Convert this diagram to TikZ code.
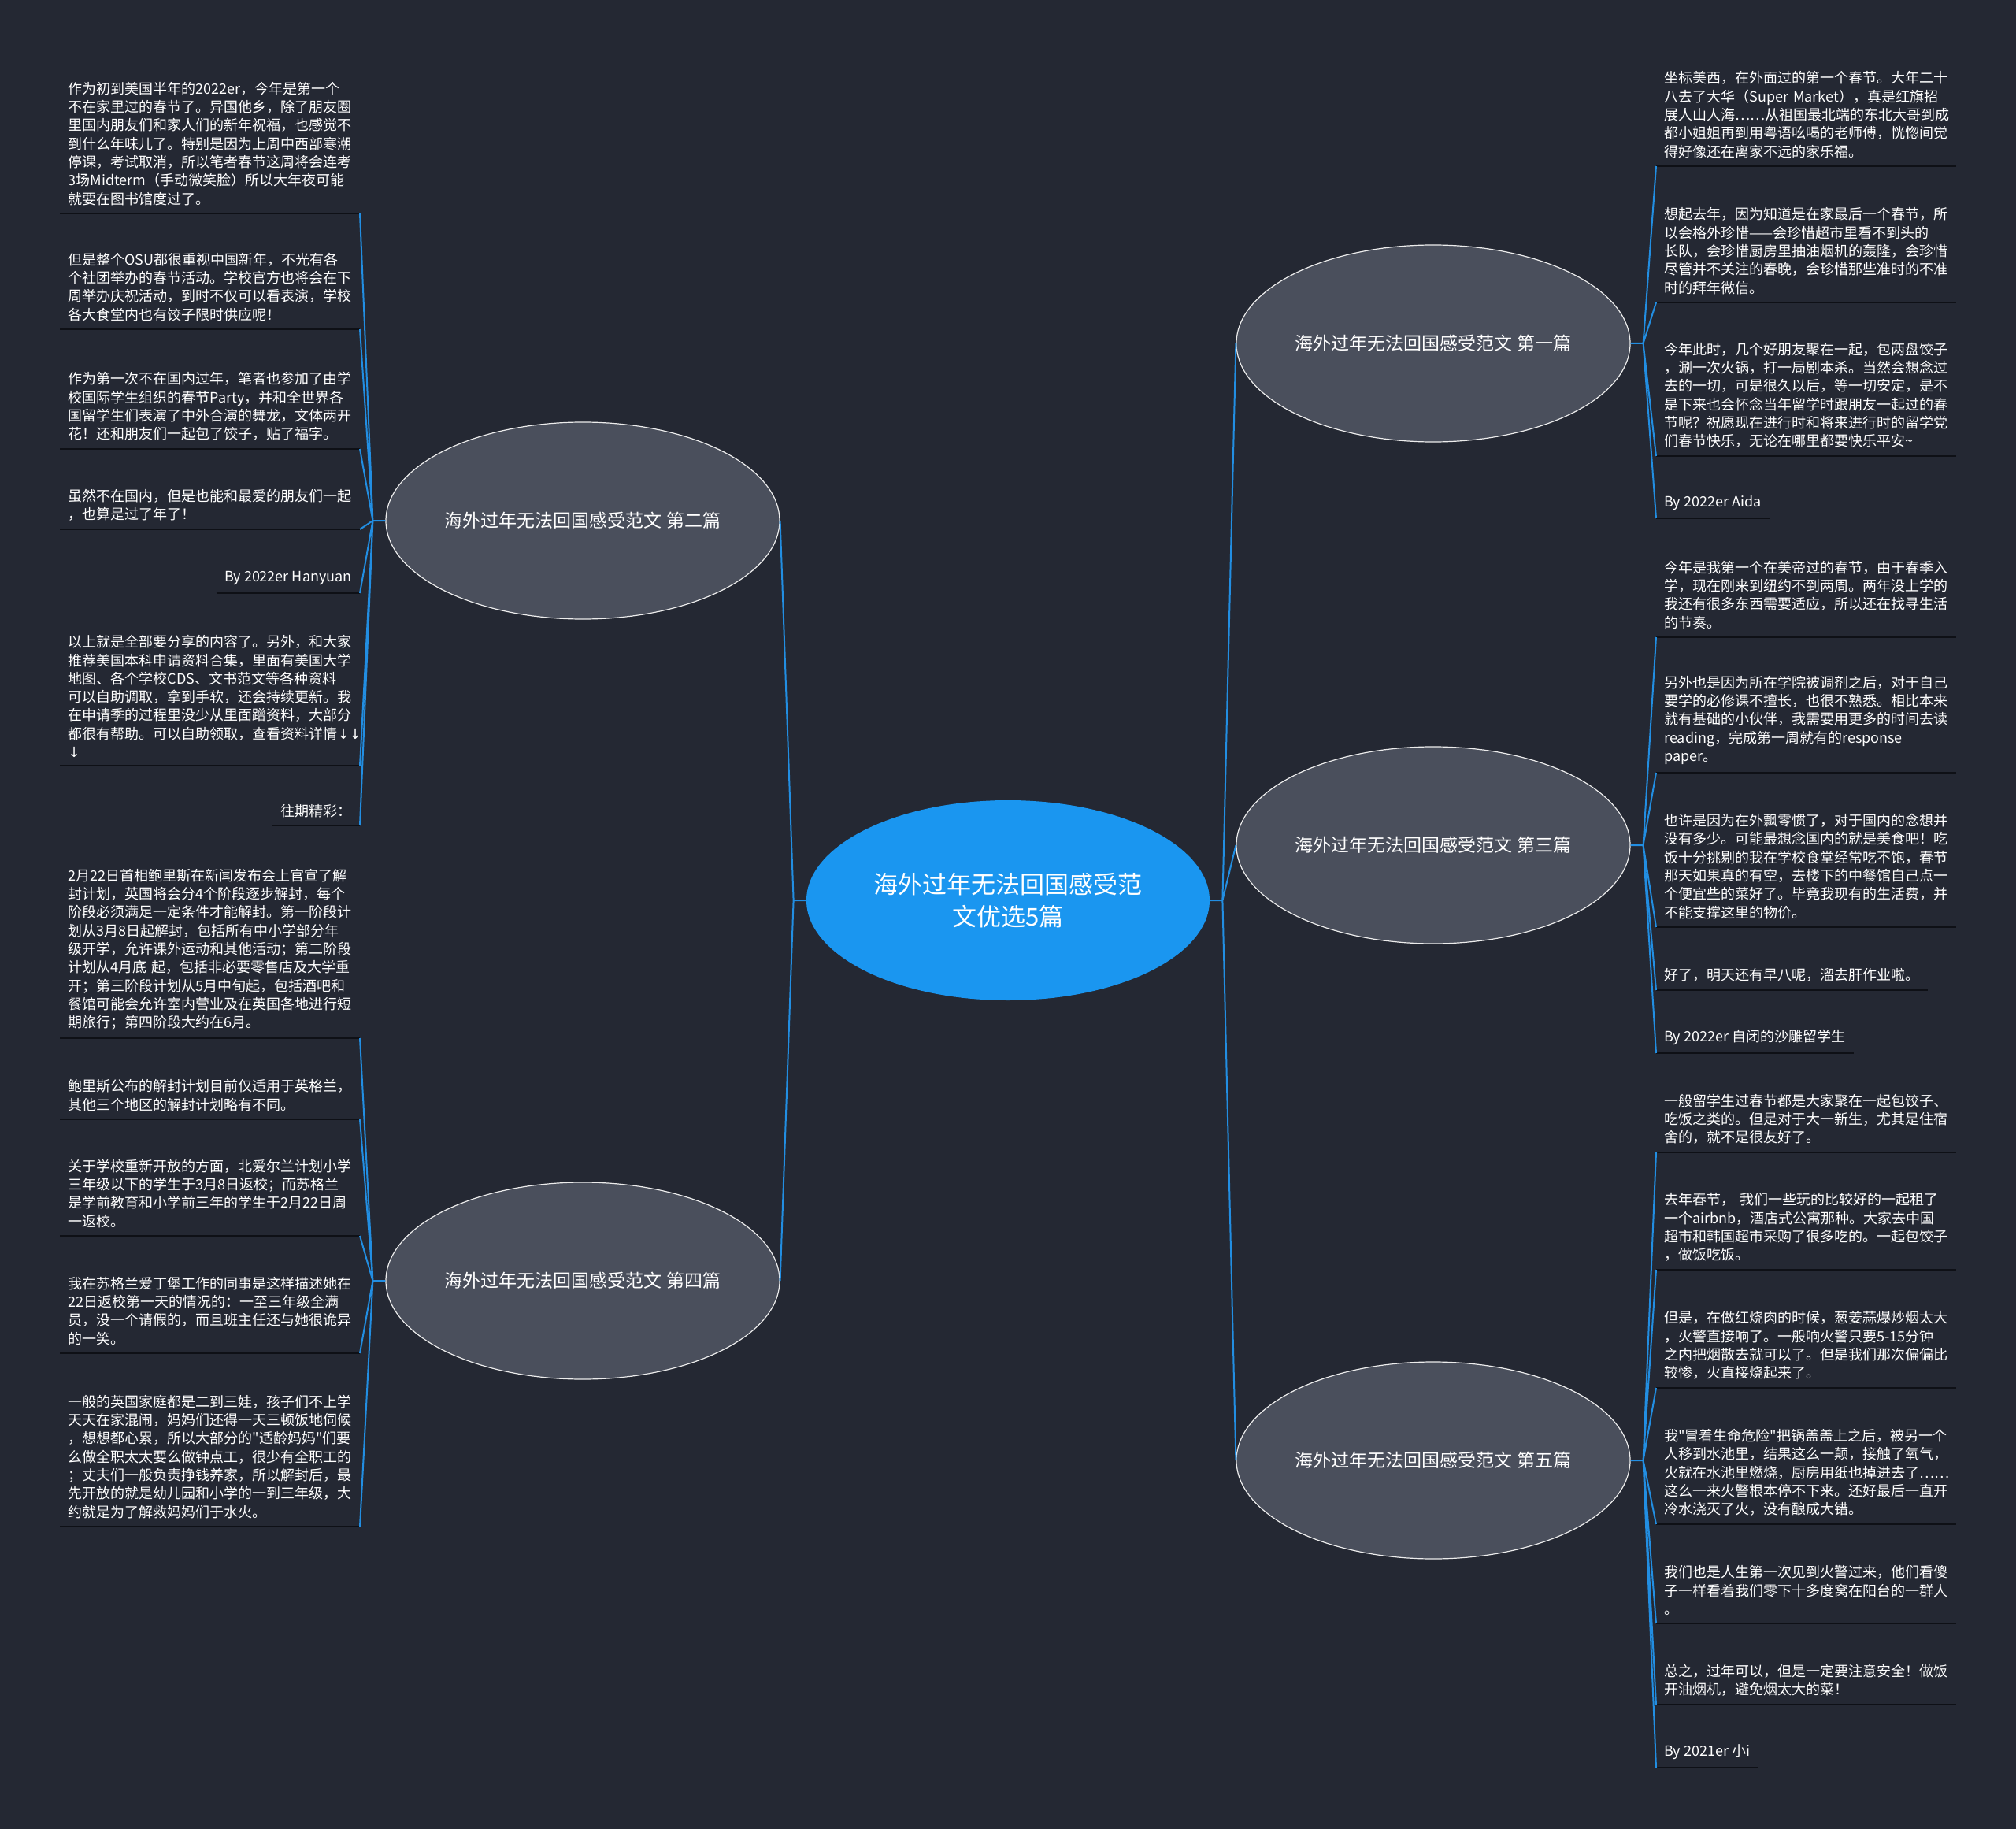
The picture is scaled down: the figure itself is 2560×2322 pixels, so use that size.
\documentclass[tikz,border=0pt]{standalone}
\usepackage{fontspec}
\setmainfont{Noto Sans CJK SC}[Ligatures=TeXOff]
\newfontfamily\freccia{DejaVu Sans}
\usetikzlibrary{shapes.geometric}
\definecolor{sfondo}{RGB}{36,40,51}
\definecolor{blu}{RGB}{26,150,240}
\definecolor{linea}{RGB}{34,142,226}
\definecolor{grigioramo}{RGB}{74,79,92}
\definecolor{riga}{RGB}{14,16,22}

\begin{document}
\begin{tikzpicture}[x=0.5pt,y=-0.5pt,
    centro/.style={ellipse, fill=blu, text=white, minimum width=256pt, minimum height=127pt,
      inner sep=0pt, align=center, font=\fontsize{15.5pt}{20.5pt}\selectfont},
    ramo/.style={ellipse, fill=grigioramo, draw=white!85!gray, line width=0.6pt, text=white,
      minimum width=250pt, minimum height=125pt, inner sep=0pt, font=\fontsize{11.5pt}{14pt}\selectfont},
    firma/.style={text=white, inner xsep=5pt, inner ysep=5pt,
      font=\fontsize{9pt}{11.65pt}\selectfont,
      append after command={(\tikzlastnode.south west) edge[sotto] (\tikzlastnode.south east)}},
    foglia/.style={firma, align=left, text width=180pt},
    sotto/.style={draw=riga, line width=1.4pt},
    collega/.style={draw=linea, line width=1pt}]

    % Sfondo
    \fill[sfondo] (0,0) rectangle (2560,2322);

    % Nodo centrale
    \node[centro] (c) at (1280,1143) {海外过年无法回国感受范\\文优选5篇};

    % Rami
    \node[ramo] (b1) at (1820,436) {海外过年无法回国感受范文 第一篇};
    \node[ramo] (b2) at (740,661) {海外过年无法回国感受范文 第二篇};
    \node[ramo] (b3) at (1820,1073) {海外过年无法回国感受范文 第三篇};
    \node[ramo] (b4) at (740,1626) {海外过年无法回国感受范文 第四篇};
    \node[ramo] (b5) at (1820,1854) {海外过年无法回国感受范文 第五篇};

    % Snodi
    \coordinate (hd) at ([xshift=8pt]c.east);
    \coordinate (hs) at ([xshift=-8pt]c.west);
    \coordinate (h1) at ([xshift=8pt]b1.east);
    \coordinate (h2) at ([xshift=-8pt]b2.west);
    \coordinate (h3) at ([xshift=8pt]b3.east);
    \coordinate (h4) at ([xshift=-8pt]b4.west);
    \coordinate (h5) at ([xshift=8pt]b5.east);

    % Foglie: primo articolo
    \node[foglia, anchor=south west] (r1) at (2103,211) {坐标美西，在外面过的第一个春节。大年二十\\八去了大华（Super Market），真是红旗招\\展人山人海……从祖国最北端的东北大哥到成\\都小姐姐再到用粤语吆喝的老师傅，恍惚间觉\\得好像还在离家不远的家乐福。};
    \node[foglia, anchor=south west] (r2) at (2103,384) {想起去年，因为知道是在家最后一个春节，所\\以会格外珍惜——会珍惜超市里看不到头的\\长队，会珍惜厨房里抽油烟机的轰隆，会珍惜\\尽管并不关注的春晚，会珍惜那些准时的不准\\时的拜年微信。};
    \node[foglia, anchor=south west] (r3) at (2103,579) {今年此时，几个好朋友聚在一起，包两盘饺子\\，涮一次火锅，打一局剧本杀。当然会想念过\\去的一切，可是很久以后，等一切安定，是不\\是下来也会怀念当年留学时跟朋友一起过的春\\节呢？祝愿现在进行时和将来进行时的留学党\\们春节快乐，无论在哪里都要快乐平安\textasciitilde};
    \node[firma, anchor=south west] (r4) at (2103,658) {By 2022er Aida};

    % Foglie: secondo articolo
    \node[foglia, anchor=south east] (l1) at (457,271) {作为初到美国半年的2022er，今年是第一个\\不在家里过的春节了。异国他乡，除了朋友圈\\里国内朋友们和家人们的新年祝福，也感觉不\\到什么年味儿了。特别是因为上周中西部寒潮\\停课，考试取消，所以笔者春节这周将会连考\\3场Midterm（手动微笑脸）所以大年夜可能\\就要在图书馆度过了。};
    \node[foglia, anchor=south east] (l2) at (457,418) {但是整个OSU都很重视中国新年，不光有各\\个社团举办的春节活动。学校官方也将会在下\\周举办庆祝活动，到时不仅可以看表演，学校\\各大食堂内也有饺子限时供应呢！};
    \node[foglia, anchor=south east] (l3) at (457,570) {作为第一次不在国内过年，笔者也参加了由学\\校国际学生组织的春节Party，并和全世界各\\国留学生们表演了中外合演的舞龙，文体两开\\花！还和朋友们一起包了饺子，贴了福字。};
    \node[foglia, anchor=south east] (l4) at (457,672) {虽然不在国内，但是也能和最爱的朋友们一起\\，也算是过了年了！};
    \node[firma, anchor=south east] (l5) at (457,753) {By 2022er Hanyuan};
    \node[foglia, anchor=south east] (l6) at (457,972) {以上就是全部要分享的内容了。另外，和大家\\推荐美国本科申请资料合集，里面有美国大学\\地图、各个学校CDS、文书范文等各种资料\\可以自助调取，拿到手软，还会持续更新。我\\在申请季的过程里没少从里面蹭资料，大部分\\都很有帮助。可以自助领取，查看资料详情{\freccia ↓↓}\\{\freccia ↓}};
    \node[firma, anchor=south east] (l7) at (457,1048) {往期精彩：};

    % Foglie: terzo articolo
    \node[foglia, anchor=south west] (r5) at (2103,809) {今年是我第一个在美帝过的春节，由于春季入\\学，现在刚来到纽约不到两周。两年没上学的\\我还有很多东西需要适应，所以还在找寻生活\\的节奏。};
    \node[foglia, anchor=south west] (r6) at (2103,981) {另外也是因为所在学院被调剂之后，对于自己\\要学的必修课不擅长，也很不熟悉。相比本来\\就有基础的小伙伴，我需要用更多的时间去读\\reading，完成第一周就有的response\\paper。};
    \node[foglia, anchor=south west] (r7) at (2103,1177) {也许是因为在外飘零惯了，对于国内的念想并\\没有多少。可能最想念国内的就是美食吧！吃\\饭十分挑剔的我在学校食堂经常吃不饱，春节\\那天如果真的有空，去楼下的中餐馆自己点一\\个便宜些的菜好了。毕竟我现有的生活费，并\\不能支撑这里的物价。};
    \node[firma, anchor=south west] (r8) at (2103,1257) {好了，明天还有早八呢，溜去肝作业啦。};
    \node[firma, anchor=south west] (r9) at (2103,1337) {By 2022er 自闭的沙雕留学生};

    % Foglie: quarto articolo
    \node[foglia, anchor=south east] (m1) at (457,1318) {2月22日首相鲍里斯在新闻发布会上官宣了解\\封计划，英国将会分4个阶段逐步解封，每个\\阶段必须满足一定条件才能解封。第一阶段计\\划从3月8日起解封，包括所有中小学部分年\\级开学，允许课外运动和其他活动；第二阶段\\计划从4月底~起，包括非必要零售店及大学重\\开；第三阶段计划从5月中旬起，包括酒吧和\\餐馆可能会允许室内营业及在英国各地进行短\\期旅行；第四阶段大约在6月。};
    \node[foglia, anchor=south east] (m2) at (457,1421) {鲍里斯公布的解封计划目前仅适用于英格兰，\\其他三个地区的解封计划略有不同。};
    \node[foglia, anchor=south east] (m3) at (457,1569) {关于学校重新开放的方面，北爱尔兰计划小学\\三年级以下的学生于3月8日返校；而苏格兰\\是学前教育和小学前三年的学生于2月22日周\\一返校。};
    \node[foglia, anchor=south east] (m4) at (457,1718) {我在苏格兰爱丁堡工作的同事是这样描述她在\\22日返校第一天的情况的：一至三年级全满\\员，没一个请假的，而且班主任还与她很诡异\\的一笑。};
    \node[foglia, anchor=south east] (m5) at (457,1938) {一般的英国家庭都是二到三娃，孩子们不上学\\天天在家混闹，妈妈们还得一天三顿饭地伺候\\，想想都心累，所以大部分的"适龄妈妈"们要\\么做全职太太要么做钟点工，很少有全职工的\\；丈夫们一般负责挣钱养家，所以解封后，最\\先开放的就是幼儿园和小学的一到三年级，大\\约就是为了解救妈妈们于水火。};

    % Foglie: quinto articolo
    \node[foglia, anchor=south west] (r10) at (2103,1463) {一般留学生过春节都是大家聚在一起包饺子、\\吃饭之类的。但是对于大一新生，尤其是住宿\\舍的，就不是很友好了。};
    \node[foglia, anchor=south west] (r11) at (2103,1612) {去年春节，~我们一些玩的比较好的一起租了\\一个airbnb，酒店式公寓那种。大家去中国\\超市和韩国超市采购了很多吃的。一起包饺子\\，做饭吃饭。};
    \node[foglia, anchor=south west] (r12) at (2103,1762) {但是，在做红烧肉的时候，葱姜蒜爆炒烟太大\\，火警直接响了。一般响火警只要5-15分钟\\之内把烟散去就可以了。但是我们那次偏偏比\\较惨，火直接烧起来了。};
    \node[foglia, anchor=south west] (r13) at (2103,1935) {我"冒着生命危险"把锅盖盖上之后，被另一个\\人移到水池里，结果这么一颠，接触了氧气，\\火就在水池里燃烧，厨房用纸也掉进去了……\\这么一来火警根本停不下来。还好最后一直开\\冷水浇灭了火，没有酿成大错。};
    \node[foglia, anchor=south west] (r14) at (2103,2061) {我们也是人生第一次见到火警过来，他们看傻\\子一样看着我们零下十多度窝在阳台的一群人\\。};
    \node[foglia, anchor=south west] (r15) at (2103,2164) {总之，过年可以，但是一定要注意安全！做饭\\开油烟机，避免烟太大的菜！};
    \node[firma, anchor=south west] (r16) at (2103,2244) {By 2021er 小i};

    % Collegamenti dal centro
    \draw[collega] (c.east) -- (hd) (hd) -- (b1.west) (hd) -- (b3.west) (hd) -- (b5.west);
    \draw[collega] (c.west) -- (hs) (hs) -- (b2.east) (hs) -- (b4.east);

    % Collegamenti ai rami
    \draw[collega] (b1.east) -- (h1) (h1) -- (r1.south west) (h1) -- (r2.south west)
        (h1) -- (r3.south west) (h1) -- (r4.south west);
    \draw[collega] (b2.west) -- (h2) (h2) -- (l1.south east) (h2) -- (l2.south east)
        (h2) -- (l3.south east) (h2) -- (l4.south east) (h2) -- (l5.south east)
        (h2) -- (l6.south east) (h2) -- (l7.south east);
    \draw[collega] (b3.east) -- (h3) (h3) -- (r5.south west) (h3) -- (r6.south west)
        (h3) -- (r7.south west) (h3) -- (r8.south west) (h3) -- (r9.south west);
    \draw[collega] (b4.west) -- (h4) (h4) -- (m1.south east) (h4) -- (m2.south east)
        (h4) -- (m3.south east) (h4) -- (m4.south east) (h4) -- (m5.south east);
    \draw[collega] (b5.east) -- (h5) (h5) -- (r10.south west) (h5) -- (r11.south west)
        (h5) -- (r12.south west) (h5) -- (r13.south west) (h5) -- (r14.south west)
        (h5) -- (r15.south west) (h5) -- (r16.south west);
\end{tikzpicture}
\end{document}
